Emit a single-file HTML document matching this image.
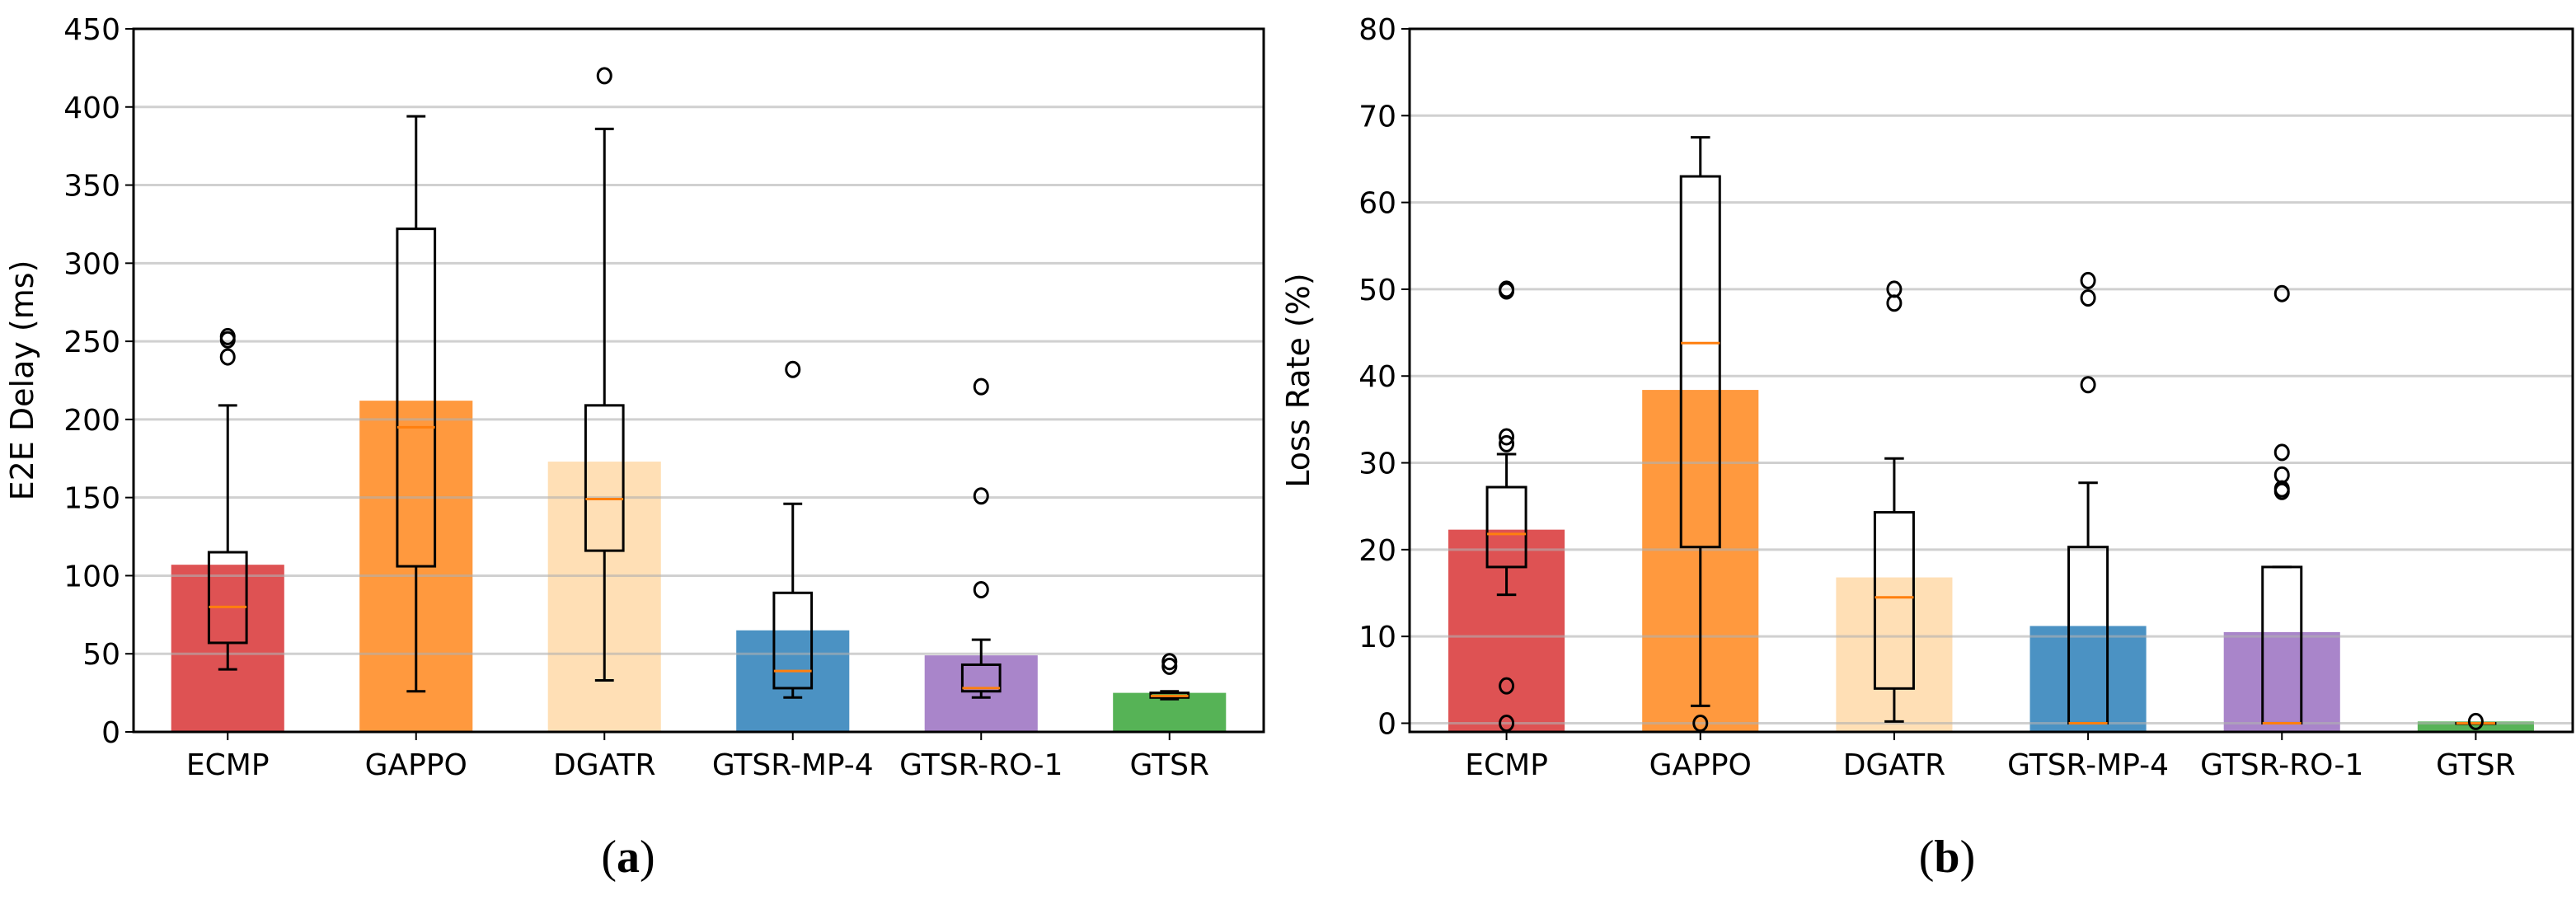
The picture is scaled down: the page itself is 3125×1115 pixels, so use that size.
<!DOCTYPE html>
<html><head><meta charset="utf-8"><style>
body{margin:0;background:#fff}
svg{display:block;font-family:"DejaVu Sans","Liberation Sans",sans-serif}
</style></head><body>
<svg id="c" width="3125" height="1115" xmlns="http://www.w3.org/2000/svg"></svg>
<script>
const categories=["ECMP","GAPPO","DGATR","GTSR-MP-4","GTSR-RO-1","GTSR"];
const colors=["#de5253","#ff993e","#ffdfb5","#4b92c3","#a985ca","#56b356"];
const delayBars=[107,212,173,65,49,25];
const delayQ1=[57,106,116,28,26,22];
const delayMed=[80,195,149,39,28,23];
const delayQ3=[115,322,209,89,43,25];
const delayLo=[40,26,33,22,22,21];
const delayHi=[209,394,386,146,59,26];
const delayOut=[[240,251,253],[],[420],[232],[91,151,221],[42,45]];
const delayTicks=[0,50,100,150,200,250,300,350,400,450];
const lossBars=[22.3,38.4,16.8,11.2,10.5,0.2];
const lossQ1=[18,20.3,4,0,0,0];
const lossMed=[21.8,43.8,14.5,0,0,0];
const lossQ3=[27.2,63,24.3,20.3,18,0];
const lossLo=[14.8,2,0.2,0,0,0];
const lossHi=[31,67.5,30.5,27.7,18,0];
const lossOut=[[0,4.3,32.2,33,49.8,50],[0],[48.4,50],[39,49,51],[26.7,27,28.6,31.2,49.5],[0.2]];
const lossTicks=[0,10,20,30,40,50,60,70,80];
const NS="http://www.w3.org/2000/svg";
const svg=document.getElementById('c');
function mk(t,a,p){const e=document.createElementNS(NS,t);for(const k in a)e.setAttribute(k,a[k]);(p||svg).appendChild(e);return e;}
function panel(o){
  const g=mk('g',{});
  
  
  const L=o.x0,R=o.x1,T=35,B=888;
  const y=v=>B-(v-o.ymin)/(o.ymax-o.ymin)*(B-T);
  const sp=(R-L)/categories.length;
  const x=i=>L+sp*(i+0.5);
  o.bars.forEach((v,i)=>{
    const r=mk('rect',{x:x(i)-0.3*sp,y:y(v),width:0.6*sp,height:B-y(v),fill:colors[i]},g);
    
    
  });
  o.ticks.forEach(t=>{
    const gl=mk('line',{x1:L,x2:R,y1:y(t),y2:y(t),stroke:'#b0b0b0','stroke-opacity':0.6,'stroke-width':3},g);
    
    
    mk('line',{x1:L-10,x2:L,y1:y(t),y2:y(t),stroke:'#000','stroke-width':2},g);
    const tx=mk('text',{x:L-16,y:y(t)+13,'text-anchor':'end','font-size':36},g);
    tx.textContent=t;
    
    
  });
  categories.forEach((c,i)=>{
    const cx=x(i),hw=0.1*sp,cw=0.05*sp;
    const bg=mk('g',{stroke:'#000','stroke-width':3,fill:'none'},g);
    
    
    mk('rect',{x:cx-hw,y:y(o.q3[i]),width:2*hw,height:Math.max(0.5,y(o.q1[i])-y(o.q3[i]))},bg);
    mk('line',{x1:cx,x2:cx,y1:y(o.q3[i]),y2:y(o.hi[i])},bg);
    mk('line',{x1:cx,x2:cx,y1:y(o.q1[i]),y2:y(o.lo[i])},bg);
    mk('line',{x1:cx-cw,x2:cx+cw,y1:y(o.hi[i]),y2:y(o.hi[i])},bg);
    mk('line',{x1:cx-cw,x2:cx+cw,y1:y(o.lo[i]),y2:y(o.lo[i])},bg);
    mk('line',{x1:cx-hw,x2:cx+hw,y1:y(o.med[i]),y2:y(o.med[i]),stroke:'#ff7f0e'},bg);
    o.out[i].forEach(v=>mk('ellipse',{cx:cx,cy:y(v),rx:8,ry:9},bg));
    mk('line',{x1:cx,x2:cx,y1:B,y2:B+10,stroke:'#000','stroke-width':2},g);
    const t=mk('text',{x:cx,y:B+52,'text-anchor':'middle','font-size':36},g);
    t.textContent=c;
    
    
  });
  mk('rect',{x:L,y:T,width:R-L,height:B-T,fill:'none',stroke:'#000','stroke-width':3},g);
  const yl=mk('text',{x:0,y:0,'text-anchor':'middle','font-size':38,transform:`translate(${L-122},${(T+B)/2}) rotate(-90)`},g);
  yl.textContent=o.ylabel;
  
  
  const cap=mk('text',{x:o.capx,y:1058,'text-anchor':'middle','font-size':56,'font-family':'"Liberation Serif",serif'},g);
  cap.innerHTML=o.cap;
  
  
}
panel({name:'delay-chart',x0:162,x1:1533,ymin:0,ymax:450,ticks:delayTicks,bars:delayBars,q1:delayQ1,q3:delayQ3,med:delayMed,lo:delayLo,hi:delayHi,out:delayOut,ylabel:'E2E Delay (ms)',capx:762,cap:'(<tspan font-weight="bold">a</tspan>)'});
panel({name:'loss-chart',x0:1710,x1:3121,ymin:-1,ymax:80,ticks:lossTicks,bars:lossBars,q1:lossQ1,q3:lossQ3,med:lossMed,lo:lossLo,hi:lossHi,out:lossOut,ylabel:'Loss Rate (%)',capx:2362,cap:'(<tspan font-weight="bold">b</tspan>)'});
</script>
</body></html>
